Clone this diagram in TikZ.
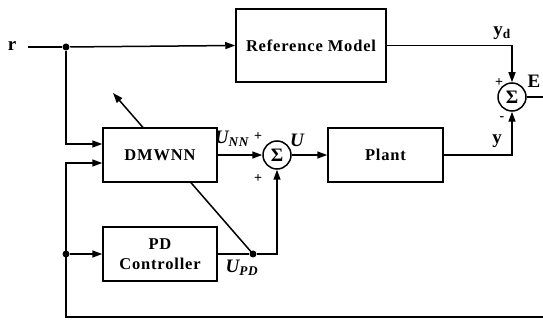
\documentclass[tikz,border=0pt]{standalone}
\usepackage{fontspec}
\setmainfont{Liberation Serif}[LetterSpace=5]
\usetikzlibrary{arrows.meta,backgrounds}
\begin{document}
\begin{tikzpicture}[x=1pt,y=-1pt, line width=1.5pt,
  blk/.style={draw, fill=white, inner sep=0pt, align=center,
    font=\fontsize{16.5}{20}\selectfont\bfseries},
  sumc/.style={draw, circle, fill=white, minimum size=28pt, inner sep=0pt,
    font=\fontsize{19}{19}\selectfont\bfseries},
  arr/.style={-{Triangle[length=10pt,width=7pt]}},
  jdot/.style={circle, fill, inner sep=0pt, minimum size=7pt},
  lbl/.style={inner sep=0pt, font=\fontsize{19}{19}\selectfont\bfseries},
  sgn/.style={inner sep=0pt, font=\fontsize{14}{14}\selectfont\bfseries}]
\useasboundingbox (0,0) rectangle (543,320);
% blocks
\node[blk, minimum width=150pt, minimum height=73pt] (ref) at (311,45.5) {Reference Model};
\node[blk, minimum width=115pt, minimum height=54pt] (plant) at (385.5,155) {Plant};
\node[blk, minimum width=114pt, minimum height=54pt] (nn) at (160,155) {DMWNN};
\node[blk, minimum width=114pt, minimum height=54pt] (pd) at (160,254) {PD\\Controller};
\node[sumc] (s1) at (277,155) {Σ};
\node[sumc] (s2) at (512,97) {Σ};
\node[jdot] (j1) at (66,47) {};
\node[jdot] (j2) at (66,254) {};
\node[jdot] (j3) at (253,254) {};
\coordinate (rs) at (28,47);
\coordinate (eout) at (543,97);
\coordinate (fbr) at (543,317);
\coordinate (adapt) at (113,93);
% connectors
\draw (rs) -- (j1);
\draw[arr] (j1) -- (ref.west);
\draw[arr] (j1) |- ([yshift=11pt]nn.west);
\draw[arr] (fbr) -| (j2.center) |- ([yshift=-8pt]nn.west);
\draw[arr] (j2) -- (pd.west);
\draw (pd.east) -- (j3);
\draw[arr] (j3) -| (s1.south);
\draw[arr] (nn.east) -- (s1.west);
\draw[arr] (s1.east) -- (plant.west);
\draw[arr] (plant.east) -| (s2.south);
\draw[arr] (ref.east) -| (s2.north);
\draw (s2.east) -- (eout);
\begin{scope}[on background layer]
\draw[arr, line width=1.5pt] (j3.center) -- (adapt);
\end{scope}
% labels
\node[lbl] (rl) at (12,46) {r};
\node[lbl] (ydl) at (502,33) {y\textsubscript{d}};
\node[lbl] (el) at (534,81) {E};
\node[lbl] (yl) at (497,141) {y};
\node[sgn] (p2) at (499,83) {+};
\node[sgn] (m2) at (502,119) {-};
\node[lbl] (unn) at (232,139) {\itshape U\textsubscript{NN}};
\node[sgn] (p1a) at (258,137) {+};
\node[sgn] (p1b) at (258,179) {+};
\node[lbl] (ul) at (297,140) {\itshape U};
\node[lbl] (upd) at (242,268) {\itshape U\textsubscript{PD}};
\end{tikzpicture}
\end{document}
